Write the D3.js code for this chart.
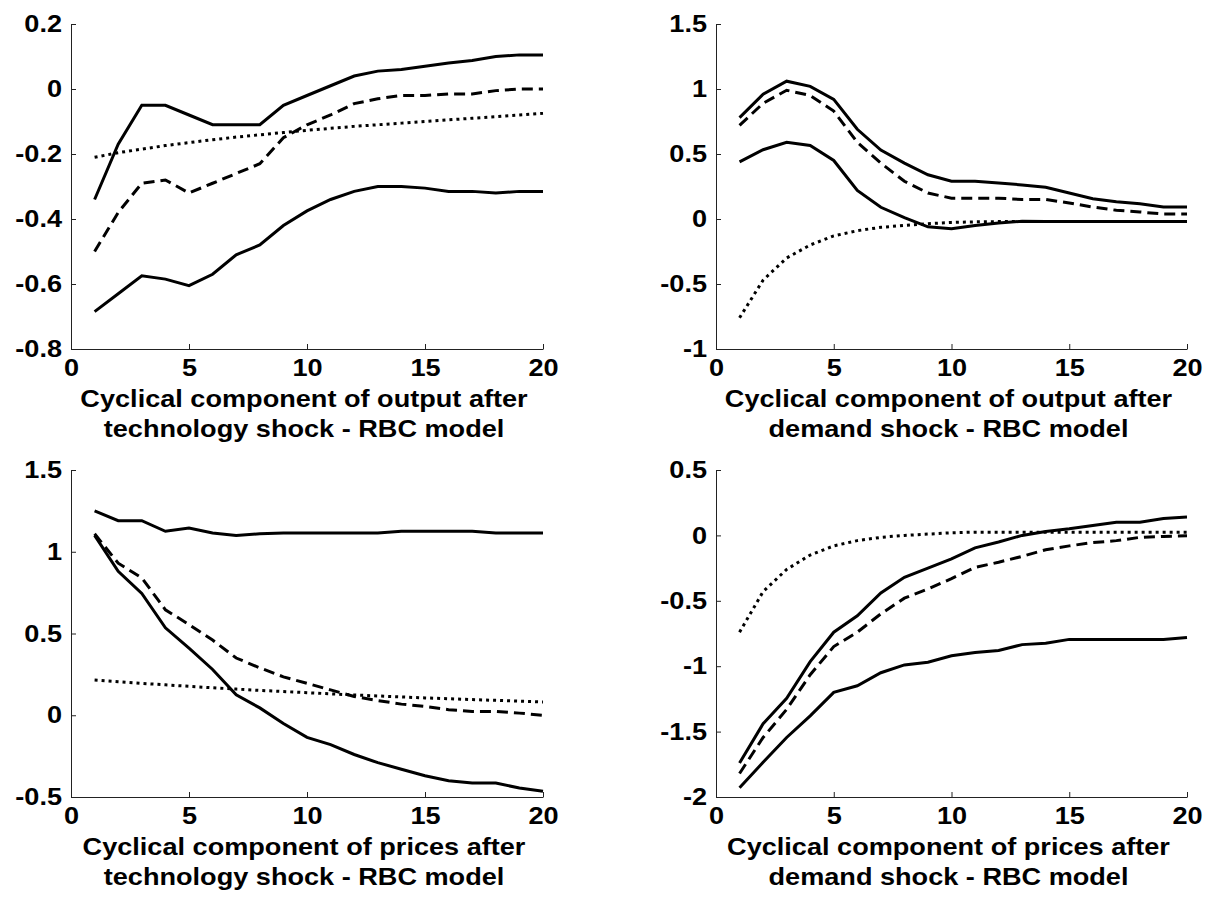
<!DOCTYPE html>
<html>
<head>
<meta charset="utf-8">
<script src="https://cdn.jsdelivr.net/npm/d3@7"></script>
<style>
  html, body { margin: 0; padding: 0; background: #fff; }
  svg { display: block; }
  text { font-family: "Liberation Sans", Arial, Helvetica, sans-serif; font-weight: bold; fill: #000; }
</style>
</head>
<body>
<svg id="chart" width="1216" height="900"></svg>
<script>
// Horizon (periods)
const periods = d3.range(1, 21);
const xTicks = [0, 5, 10, 15, 20];

// Panel 1: output after technology shock
const outTechUpper = [-0.34, -0.17, -0.05, -0.05, -0.08, -0.11, -0.11, -0.11, -0.05, -0.02, 0.01, 0.04, 0.055, 0.06, 0.07, 0.08, 0.088, 0.10, 0.105, 0.105];
const outTechMean  = [-0.50, -0.38, -0.29, -0.28, -0.32, -0.29, -0.26, -0.23, -0.15, -0.11, -0.08, -0.045, -0.03, -0.02, -0.02, -0.015, -0.015, -0.005, 0.0, 0.0];
const outTechModel = [-0.21, -0.196, -0.185, -0.174, -0.165, -0.156, -0.148, -0.141, -0.134, -0.127, -0.121, -0.115, -0.110, -0.105, -0.100, -0.095, -0.090, -0.085, -0.080, -0.075];
const outTechLower = [-0.685, -0.63, -0.575, -0.585, -0.605, -0.57, -0.51, -0.48, -0.42, -0.375, -0.34, -0.315, -0.30, -0.30, -0.305, -0.315, -0.315, -0.32, -0.315, -0.315];
const outTechTicks = [0.2, 0, -0.2, -0.4, -0.6, -0.8];

// Panel 2: output after demand shock
const outDemUpper = [0.78, 0.96, 1.06, 1.02, 0.92, 0.69, 0.53, 0.43, 0.34, 0.29, 0.29, 0.277, 0.262, 0.244, 0.20, 0.156, 0.133, 0.118, 0.092, 0.092];
const outDemMean  = [0.72, 0.89, 0.99, 0.95, 0.83, 0.59, 0.43, 0.29, 0.20, 0.16, 0.16, 0.16, 0.15, 0.15, 0.123, 0.092, 0.067, 0.054, 0.038, 0.038];
const outDemModel = [-0.76, -0.47, -0.30, -0.20, -0.13, -0.09, -0.064, -0.049, -0.036, -0.026, -0.022, -0.02, -0.02, -0.02, -0.02, -0.02, -0.02, -0.02, -0.02, -0.02];
const outDemLower = [0.44, 0.533, 0.59, 0.565, 0.45, 0.22, 0.09, 0.01, -0.06, -0.075, -0.05, -0.03, -0.018, -0.02, -0.02, -0.02, -0.02, -0.02, -0.02, -0.02];
const outDemTicks = [1.5, 1, 0.5, 0, -0.5, -1];

// Panel 3: prices after technology shock
const prTechUpper = [1.25, 1.19, 1.19, 1.125, 1.145, 1.115, 1.10, 1.11, 1.115, 1.115, 1.115, 1.115, 1.115, 1.125, 1.125, 1.125, 1.125, 1.115, 1.115, 1.115];
const prTechMean  = [1.11, 0.93, 0.84, 0.645, 0.555, 0.46, 0.35, 0.29, 0.235, 0.195, 0.155, 0.115, 0.09, 0.068, 0.054, 0.034, 0.023, 0.023, 0.013, 0.0];
const prTechModel = [0.215, 0.205, 0.195, 0.186, 0.177, 0.168, 0.160, 0.152, 0.145, 0.138, 0.131, 0.124, 0.118, 0.112, 0.106, 0.101, 0.096, 0.091, 0.086, 0.081];
const prTechLower = [1.10, 0.88, 0.745, 0.535, 0.41, 0.28, 0.125, 0.045, -0.05, -0.135, -0.18, -0.24, -0.29, -0.33, -0.37, -0.40, -0.415, -0.415, -0.445, -0.465];
const prTechTicks = [1.5, 1, 0.5, 0, -0.5];

// Panel 4: prices after demand shock
const prDemUpper = [-1.74, -1.44, -1.245, -0.965, -0.74, -0.615, -0.44, -0.32, -0.25, -0.18, -0.095, -0.05, 0.0, 0.03, 0.05, 0.075, 0.10, 0.10, 0.13, 0.14];
const prDemMean  = [-1.82, -1.545, -1.33, -1.065, -0.85, -0.74, -0.60, -0.48, -0.41, -0.33, -0.245, -0.205, -0.16, -0.11, -0.08, -0.055, -0.04, -0.015, -0.008, -0.003];
const prDemModel = [-0.74, -0.43, -0.26, -0.15, -0.08, -0.04, -0.015, 0.0, 0.01, 0.02, 0.025, 0.025, 0.025, 0.025, 0.025, 0.025, 0.025, 0.025, 0.025, 0.025];
const prDemLower = [-1.93, -1.735, -1.545, -1.38, -1.20, -1.15, -1.05, -0.99, -0.97, -0.92, -0.895, -0.88, -0.835, -0.825, -0.795, -0.795, -0.795, -0.795, -0.795, -0.78];
const prDemTicks = [0.5, 0, -0.5, -1, -1.5, -2];

// Titles
const titles = [
  ["Cyclical component of output after", "technology shock - RBC model"],
  ["Cyclical component of output after", "demand shock - RBC model"],
  ["Cyclical component of prices after", "technology shock - RBC model"],
  ["Cyclical component of prices after", "demand shock - RBC model"]
];

const panels = [
  { title: titles[0], ticks: outTechTicks, series: [outTechUpper, outTechMean, outTechModel, outTechLower], box: [71, 543, 24, 349] },
  { title: titles[1], ticks: outDemTicks,  series: [outDemUpper, outDemMean, outDemModel, outDemLower],     box: [716, 1187, 24, 349] },
  { title: titles[2], ticks: prTechTicks,  series: [prTechUpper, prTechMean, prTechModel, prTechLower],     box: [71, 543, 470, 797] },
  { title: titles[3], ticks: prDemTicks,   series: [prDemUpper, prDemMean, prDemModel, prDemLower],         box: [716, 1187, 470, 797] }
];
// line styles: solid, dashed, dotted, solid
const styles = [null, "11,6", "3,4", null];

const SX = 1.13;   // horizontal stretch of the text, as in the reference
const FS = 24;

const svg = d3.select("#chart");
const fmt = d => (Math.abs(d) < 1e-9 ? "0" : String(+d.toFixed(1)));

panels.forEach(p => {
  const [x0, x1, y0, y1] = p.box;
  const yMin = d3.min(p.ticks), yMax = d3.max(p.ticks);
  const x = d3.scaleLinear().domain([0, 20]).range([x0, x1]);
  const y = d3.scaleLinear().domain([yMin, yMax]).range([y1, y0]);
  const g = svg.append("g");

  // y axis
  const ya = g.append("g").attr("transform", `translate(${x0},0)`)
    .call(d3.axisLeft(y).tickValues(p.ticks).tickFormat(fmt).tickSizeInner(-5).tickSizeOuter(0).tickPadding(9));
  ya.select(".domain").attr("stroke", "#222").attr("stroke-width", 1);
  ya.selectAll(".tick line").attr("stroke", "#222");
  ya.selectAll("text").attr("font-size", FS).attr("font-family", null)
    .attr("x", 0).attr("transform", `translate(-9,0) scale(${SX},1)`);

  // x axis
  const xa = g.append("g").attr("transform", `translate(0,${y1})`)
    .call(d3.axisBottom(x).tickValues(xTicks).tickFormat(d3.format("d")).tickSizeInner(-5).tickSizeOuter(0).tickPadding(9));
  xa.select(".domain").attr("stroke", "#222").attr("stroke-width", 1);
  xa.selectAll(".tick line").attr("stroke", "#222");
  xa.selectAll("text").attr("font-size", FS).attr("font-family", null)
    .attr("y", 0).attr("transform", `translate(0,10) scale(${SX},1)`);

  const line = d3.line().x((d, i) => x(periods[i])).y(d => y(d));
  p.series.forEach((s, k) => {
    g.append("path").datum(s)
      .attr("d", line)
      .attr("fill", "none")
      .attr("stroke", "#000")
      .attr("stroke-width", 3)
      .attr("stroke-dasharray", styles[k]);
  });

  const cx = (x0 + x1) / 2 - 3;
  g.append("text").attr("transform", `translate(${cx},${y1 + 58}) scale(${SX},1)`)
    .attr("text-anchor", "middle").attr("font-size", FS).text(p.title[0]);
  g.append("text").attr("transform", `translate(${cx},${y1 + 88}) scale(${SX},1)`)
    .attr("text-anchor", "middle").attr("font-size", FS).text(p.title[1]);
});
</script>
</body>
</html>
